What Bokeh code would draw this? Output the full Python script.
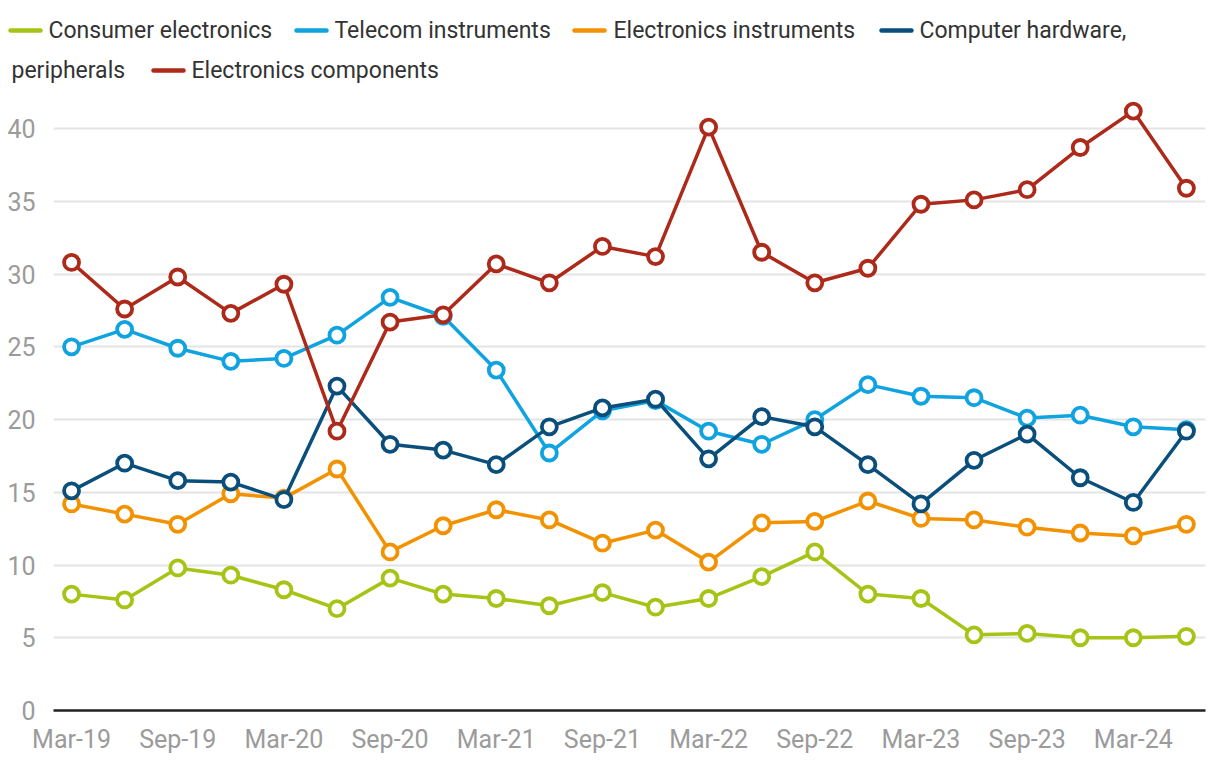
from bokeh.plotting import figure
from bokeh.layouts import column
from bokeh.models import Range1d, FixedTicker, ColumnDataSource
from bokeh.core.properties import value
from bokeh.embed import file_html
from bokeh.resources import INLINE

FONT = "Roboto"

quarters = ["Mar-19", "Jun-19", "Sep-19", "Dec-19", "Mar-20", "Jun-20", "Sep-20", "Dec-20",
            "Mar-21", "Jun-21", "Sep-21", "Dec-21", "Mar-22", "Jun-22", "Sep-22", "Dec-22",
            "Mar-23", "Jun-23", "Sep-23", "Dec-23", "Mar-24", "Jun-24"]

consumer_electronics = [8.0, 7.6, 9.8, 9.3, 8.3, 7.0, 9.1, 8.0, 7.7, 7.2, 8.1, 7.1,
                        7.7, 9.2, 10.9, 8.0, 7.7, 5.2, 5.3, 5.0, 5.0, 5.1]
telecom_instruments = [25.0, 26.2, 24.9, 24.0, 24.2, 25.8, 28.4, 27.1, 23.4, 17.7, 20.6, 21.3,
                       19.2, 18.3, 20.0, 22.4, 21.6, 21.5, 20.1, 20.3, 19.5, 19.3]
electronics_instruments = [14.2, 13.5, 12.8, 14.9, 14.6, 16.6, 10.9, 12.7, 13.8, 13.1, 11.5, 12.4,
                           10.2, 12.9, 13.0, 14.4, 13.2, 13.1, 12.6, 12.2, 12.0, 12.8]
computer_hardware = [15.1, 17.0, 15.8, 15.7, 14.5, 22.3, 18.3, 17.9, 16.9, 19.5, 20.8, 21.4,
                     17.3, 20.2, 19.5, 16.9, 14.2, 17.2, 19.0, 16.0, 14.3, 19.2]
electronics_components = [30.8, 27.6, 29.8, 27.3, 29.3, 19.2, 26.7, 27.2, 30.7, 29.4, 31.9, 31.2,
                          40.1, 31.5, 29.4, 30.4, 34.8, 35.1, 35.8, 38.7, 41.2, 35.9]

series_names = ["Consumer electronics", "Telecom instruments", "Electronics instruments",
                "Computer hardware,", "Electronics components"]
series_values = [consumer_electronics, telecom_instruments, electronics_instruments,
                 computer_hardware, electronics_components]
colors = ["#a5c415", "#0fa3e0", "#f39200", "#0a4f7b", "#ad2a1a"]

W = 1215
LEG_H = 99

# ---------- legend strip (pixel-based layout) ----------
leg = figure(width=W, height=LEG_H, x_range=Range1d(0, W), y_range=Range1d(LEG_H, 0),
             output_backend="svg", toolbar_location=None, x_axis_type=None, y_axis_type=None,
             min_border=0, outline_line_color=None, frame_align=False)
leg.grid.visible = False

sw_x0 = [10, 296, 574, 881, 153]
txt_x = [48, 334, 613, 919, 191]
row_y = [30, 30, 30, 30, 70]
leg.segment(x0=sw_x0, x1=[v + 30 for v in sw_x0], y0=row_y, y1=row_y,
            line_color=colors, line_width=4.5, line_cap="round")
leg.text(x=txt_x, y=row_y, text=series_names, text_font=value(FONT), text_font_size="23px",
         text_color="#333333", text_baseline="middle", text_align="left")
leg.text(x=[11], y=[70], text=["peripherals"], text_font=value(FONT), text_font_size="23px",
         text_color="#333333", text_baseline="middle", text_align="left")

# ---------- main chart ----------
p = figure(width=W, height=661, x_range=Range1d(-0.34, 21.36), y_range=Range1d(0, 42),
           output_backend="svg", toolbar_location=None, frame_align=False,
           min_border_left=53, min_border_right=W - 1205, min_border_top=0, min_border_bottom=50)
p.outline_line_color = None
p.xgrid.visible = False
p.ygrid.grid_line_color = "#e4e4e4"
p.ygrid.grid_line_width = 2
p.yaxis.ticker = FixedTicker(ticks=list(range(0, 45, 5)))
p.xaxis.ticker = FixedTicker(ticks=list(range(0, len(quarters), 2)))
p.xaxis.major_label_overrides = {i: q for i, q in enumerate(quarters)}

for ax in (p.xaxis, p.yaxis):
    ax.major_label_text_font = FONT
    ax.major_label_text_font_size = "25px"
    ax.major_label_text_color = "#9b9b9b"
    ax.major_tick_line_color = None
    ax.minor_tick_line_color = None
p.yaxis.axis_line_color = None
p.yaxis.major_label_standoff = 12
p.xaxis.axis_line_color = "#222222"
p.xaxis.axis_line_width = 2.5
p.xaxis.major_label_standoff = 8

xs = list(range(len(quarters)))
for vals, c in zip(series_values, colors):
    src = ColumnDataSource(dict(x=xs, y=vals))
    p.line("x", "y", source=src, line_color=c, line_width=3.5, line_join="round")
    p.scatter("x", "y", source=src, size=15, fill_color="white", line_color=c, line_width=3.8)

layout = column(leg, p, spacing=0)
open("out.html", "w").write(file_html(layout, INLINE))
